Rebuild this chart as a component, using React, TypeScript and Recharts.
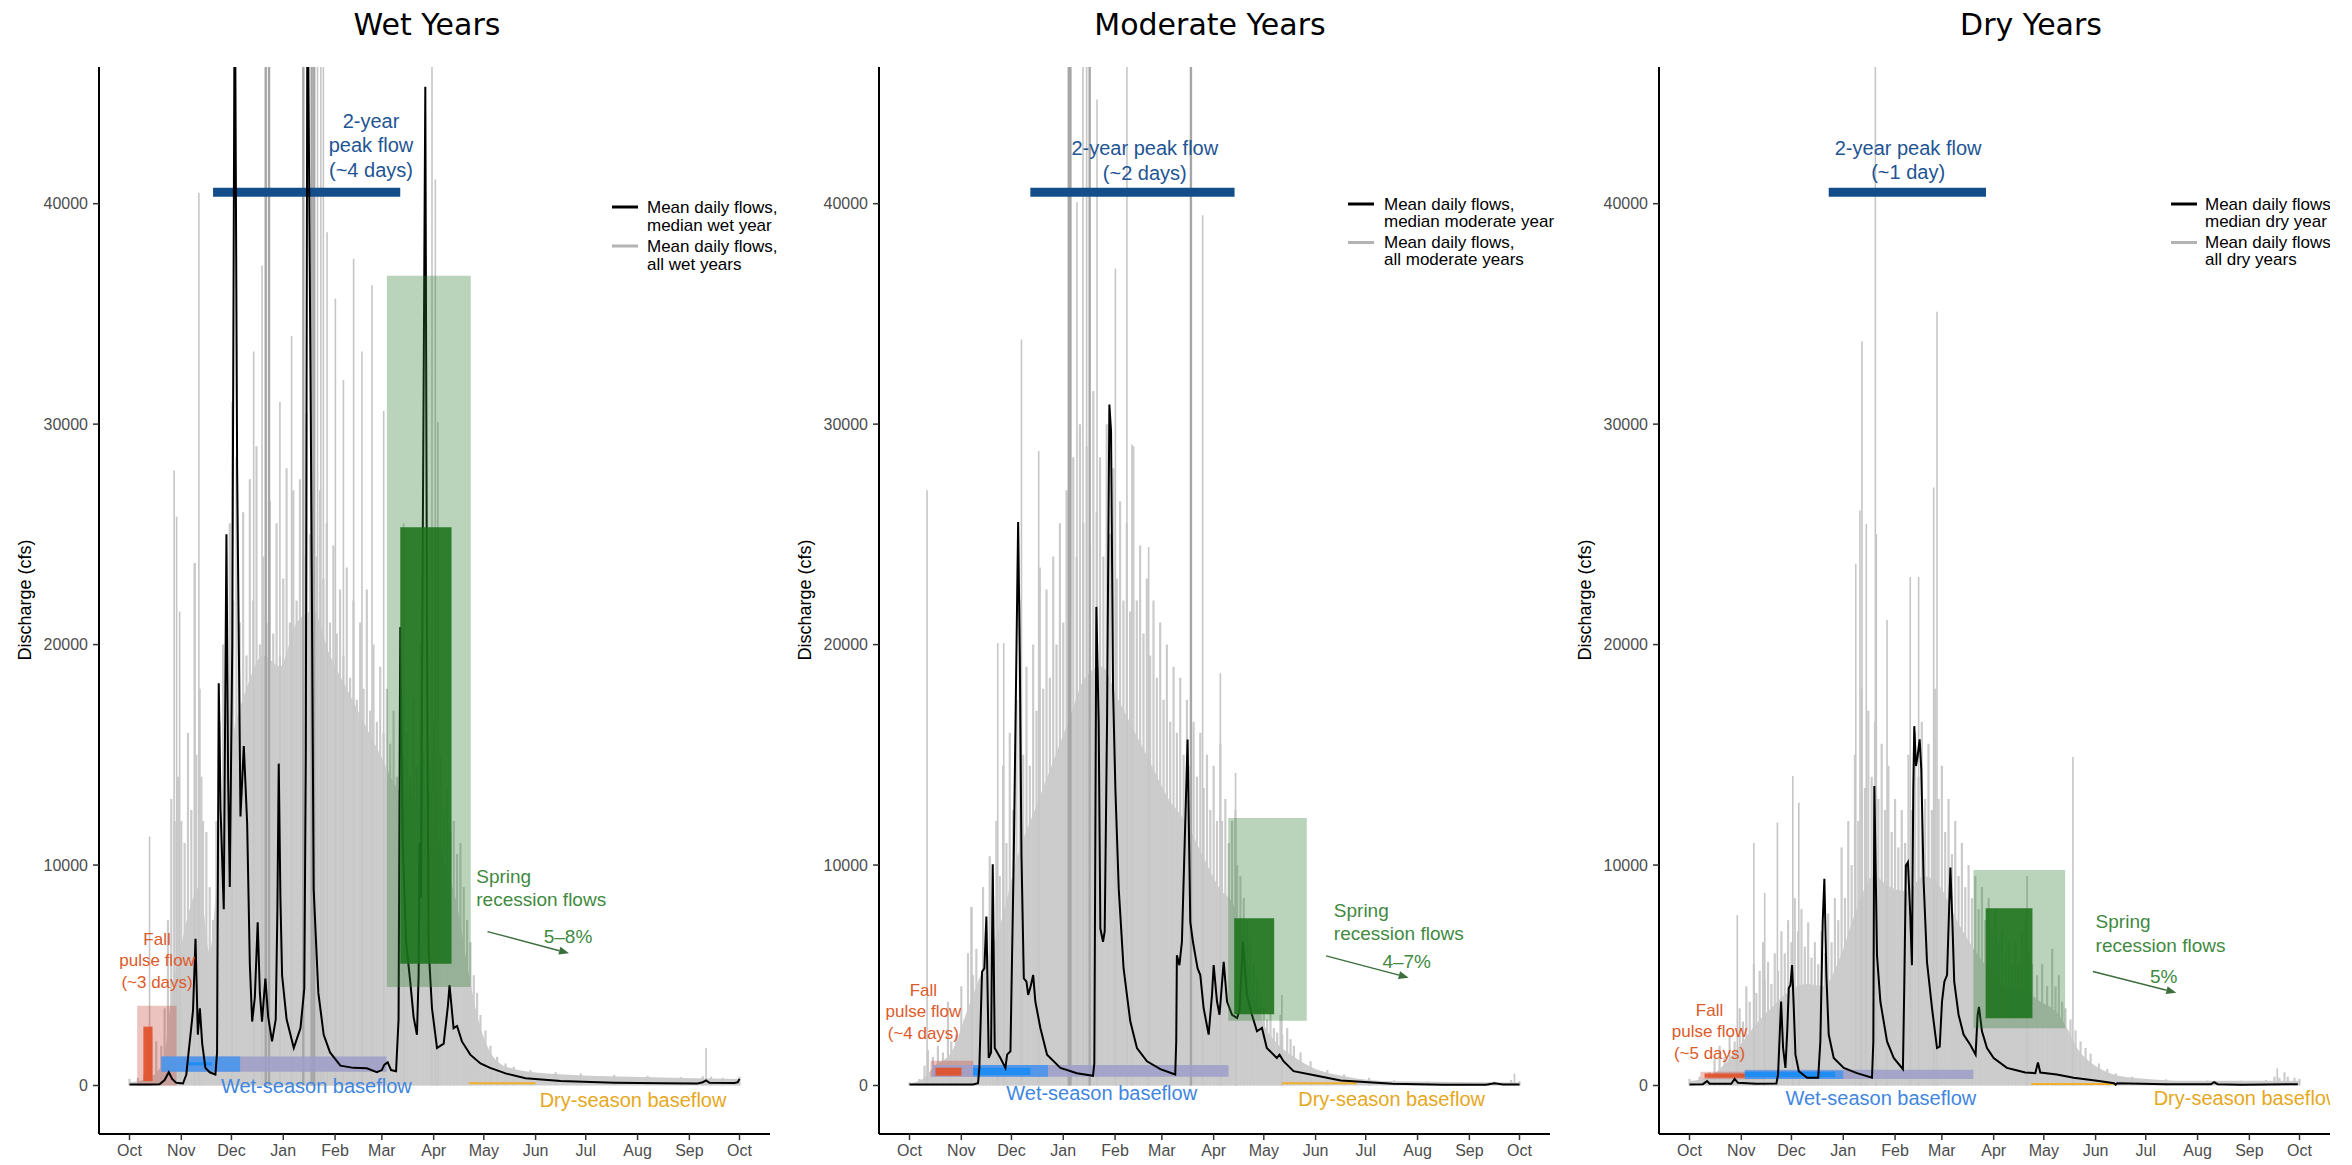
import React from 'react';
import {
  ComposedChart,
  Area,
  Line,
  Scatter,
  XAxis,
  YAxis,
  ReferenceArea,
  ReferenceLine,
} from 'recharts';

type Pt = [number, number]; // [day of water year, discharge in cfs]
type Box = [number, number, number, number]; // [start day, end day, low cfs, high cfs]

const FONT = '"Liberation Sans", Arial, Helvetica, sans-serif';
const TITLE_FONT = '"DejaVu Sans", Verdana, sans-serif';

// ---- axes ----
const MONTH_TICKS = [0, 31, 61, 92, 123, 151, 182, 212, 243, 273, 304, 335, 365];
const MONTH_LABELS = ['Oct', 'Nov', 'Dec', 'Jan', 'Feb', 'Mar', 'Apr', 'May', 'Jun', 'Jul', 'Aug', 'Sep', 'Oct'];
const CFS_TICKS = [0, 10000, 20000, 30000, 40000];
const DAY_DOMAIN: [number, number] = [-18.25, 383.25];
const CFS_DOMAIN: [number, number] = [-2200, 46200];

// ---- wet years ----
const wetMedian: Pt[] = [
  [0, 40], [10, 45], [18, 60], [21, 250], [23.5, 600], [25.5, 300], [28, 120], [32, 90], [34, 500],
  [35.5, 1600], [36.5, 2300], [38, 3400], [39.5, 6650], [40.9, 2300], [42.1, 3500], [43.5, 1900],
  [45.4, 800], [48, 600], [51.4, 500], [52.4, 1500], [53.4, 18250], [54.5, 12500], [56.4, 8000],
  [58, 25000], [59, 14000], [60, 9000], [61.5, 20000], [63, 52000], [64.4, 28000], [66.4, 12200],
  [68.4, 15400], [70.4, 11900], [72, 5500], [73.4, 2900], [75, 4000], [76.7, 7400], [78, 4200],
  [79.3, 2900], [81.3, 4850], [83, 3100], [85.3, 2000], [87.5, 3000], [88.5, 8000], [89.3, 14600],
  [90.3, 8500], [91.3, 5000], [94, 3000], [98.3, 1700], [102.3, 2600], [104.6, 4400], [105.5, 15000],
  [106.5, 52000], [108.5, 30000], [110.2, 8900], [113, 4200], [116.2, 2300], [120, 1500], [126.2, 900],
  [134, 800], [142, 780], [148, 600], [151, 700], [152.5, 950], [154.5, 1050], [156.5, 700],
  [159.5, 650], [161, 3000], [162, 20800], [163.5, 11000], [165.5, 6500], [168, 4700], [170, 3100],
  [172, 2300], [173, 5000], [173.6, 11000], [174.4, 8500], [175.5, 25000], [177, 45300], [178, 21000],
  [179, 6200], [181, 3500], [184, 1700], [188, 1900], [190.5, 3600], [191.5, 4550], [193.9, 2600],
  [196, 2700], [198.9, 2000], [203.9, 1400], [210, 1000], [215.8, 800], [225, 550], [237, 330],
  [258, 200], [290, 130], [320, 100], [340, 95], [343, 150], [345, 230], [347, 120], [362, 110],
  [364, 150], [365, 300],
];
// highest daily flow among all wet years, sampled every couple of days
const wetAllYears: Pt[] = [
  [0, 300], [5, 350], [9, 500], [11, 2500], [13, 2200], [16, 2000], [19, 1800], [21, 3500], [23, 7500],
  [25, 13000], [27, 12000], [29, 14000], [31, 12000], [33, 11000], [35, 16000], [37, 12500], [39, 23700],
  [40, 15000], [42, 18000], [43, 14000], [44, 12000], [46, 11500], [48, 9000], [50, 7500], [52, 12000],
  [54, 16500], [56, 20000], [58, 18000], [60, 25500], [62, 22000], [64, 28500], [66, 21000], [68, 26000],
  [70, 19500], [72, 27500], [74, 22000], [76, 29000], [78, 20000], [80, 24000], [82, 21000], [84, 26500],
  [86, 20500], [88, 25500], [90, 19500], [92, 23000], [94, 28000], [96, 21000], [98, 27000], [100, 22000],
  [102, 27500], [104, 24000], [106, 30500], [108, 25000], [110, 29000], [112, 24000], [114, 27000],
  [116, 23000], [118, 25500], [120, 21000], [122, 24500], [124, 20500], [126, 22500], [128, 19500],
  [130, 23500], [132, 18500], [134, 22000], [136, 17500], [138, 21000], [140, 18000], [142, 22500],
  [144, 17000], [146, 20000], [148, 16500], [150, 19000], [152, 16000], [154, 18000], [156, 15500],
  [158, 17000], [160, 14000], [162, 16500], [164, 15000], [166, 16000], [168, 14000], [170, 17500],
  [172, 14500], [174, 20000], [176, 15000], [178, 18000], [180, 14500], [182, 16500], [184, 13500],
  [186, 15000], [188, 12500], [190, 13500], [192, 11500], [194, 12000], [196, 10500], [198, 11000],
  [200, 9000], [202, 7500], [204, 6500], [206, 5000], [208, 4200], [210, 3200], [213, 2500], [216, 1800],
  [220, 1300], [225, 1000], [230, 850], [240, 700], [255, 600], [270, 550], [290, 480], [310, 430],
  [330, 380], [343, 420], [348, 400], [355, 350], [365, 400],
];
// level that most wet years reach on a given day (solid part of the gray band)
const wetAllYearsFloor: Pt[] = [
  [0, 150], [10, 300], [20, 1000], [25, 4000], [30, 6000], [36, 8000], [42, 9000], [48, 6000], [54, 11000],
  [60, 15000], [70, 18000], [80, 19500], [90, 19000], [100, 21000], [110, 21500], [120, 19500],
  [130, 18000], [140, 16500], [150, 15000], [160, 13500], [170, 13000], [180, 12000], [190, 9800],
  [196, 8200], [202, 5500], [208, 3200], [214, 1800], [220, 1100], [230, 750], [250, 550], [300, 400],
  [365, 300],
];
const wetSpikes: Pt[] = [
  [12, 11300], [26.7, 27900], [28.2, 25800], [30, 21500], [39, 23700], [41.5, 40500], [61.4, 31000],
  [74.3, 33300], [79.3, 37200], [90, 31000], [97, 34000], [118.2, 38700], [123.2, 35700], [128, 32000],
  [134.1, 37500], [139.1, 33300], [145.1, 36300], [152.1, 30600], [164, 25500], [183, 41100],
  [184.5, 30100], [345, 1700],
];
const wetTallSpikes: Pt[] = [[112.5, 52000], [114.5, 52000], [116, 52000], [181, 52000]];
const wetDarkSpikes: Pt[] = [[81.5, 52000], [83.5, 52000], [104, 52000], [109, 52000], [110.5, 52000]];
const wetPeakFlow: Box = [50, 162, 40520, 40520];
const wetFallRange: Box = [4.6, 28.1, 0, 3620];
const wetFallPeak: Box = [8.3, 13.8, 200, 2670];
const wetBaseRange: Box = [19, 153.8, 625, 1310];
const wetBaseEarly: Box = [19, 66.2, 625, 1310];
const wetBaseCore: Box = [34.2, 49.4, 910, 1060];
const wetDryBase: Box = [203, 243, 100, 100];
const wetSpringRange: Box = [154, 204.2, 4470, 36730];
const wetSpringCore: Box = [162, 192.7, 5520, 25320];
const wetRecession: Box = [214.2, 263, 6980, 6000];

// ---- moderate years ----
const moderateMedian: Pt[] = [
  [0, 40], [20, 40], [38, 50], [41, 100], [41.8, 800], [43.4, 5160], [44.8, 5310], [46, 7660],
  [47.4, 1250], [48.8, 1500], [49.8, 10040], [51, 1700], [52.5, 1500], [54.4, 1250], [57.4, 800],
  [58.4, 1400], [60.4, 1550], [62.4, 10430], [65, 25560], [66, 19450], [67, 10430], [68.4, 4860],
  [70, 4710], [71, 4110], [72.5, 4500], [74, 5010], [75.3, 3810], [78.3, 2610], [82.3, 1400],
  [90.3, 800], [100.2, 560], [109.8, 440], [110.6, 1000], [111.8, 21710], [113.2, 16450], [114.2, 7120],
  [115.8, 6520], [116.8, 7000], [118.2, 16450], [119.6, 30890], [120.6, 29690], [121.8, 17950],
  [123.2, 13440], [125.2, 8920], [128.1, 5310], [132.1, 2910], [136.1, 1700], [142.1, 1100],
  [150.1, 740], [159, 500], [159.6, 2000], [160, 5910], [161.5, 5460], [163, 6520], [166.4, 15690],
  [168, 7420], [169.6, 6520], [171, 5900], [172.4, 5310], [174, 5010], [176, 3510], [179, 2310],
  [181, 4110], [182, 5460], [184, 3810], [185.5, 3210], [188, 5610], [190, 3810], [193, 3210],
  [196, 3060], [197.5, 3400], [199.5, 6520], [201.9, 4110], [204.9, 3210], [207.9, 2460], [210.9, 2610],
  [213.8, 1700], [219.8, 1250], [221.4, 1400], [223.8, 1100], [229.8, 650], [243, 450], [258, 230],
  [289, 75], [320, 35], [345, 35], [350, 100], [355, 50], [365, 40],
];
const moderateAllYears: Pt[] = [
  [0, 150], [6, 300], [9, 900], [11, 1600], [14, 1300], [17, 1800], [20, 1500], [23, 3800], [25, 2000],
  [28, 2300], [31, 4500], [33, 3000], [35, 6000], [37, 8100], [38, 5000], [40, 6200], [42, 4800],
  [44, 9000], [46, 7000], [48, 10400], [50, 8500], [52, 12000], [54, 9500], [56, 14500], [58, 11000],
  [60, 16000], [62, 12500], [64, 17500], [66, 22000], [68, 15000], [70, 19000], [72, 14500], [74, 20000],
  [76, 17000], [78, 23500], [80, 18000], [82, 22500], [84, 18500], [86, 24000], [88, 20000], [90, 25500],
  [92, 21000], [94, 27000], [96, 23000], [98, 28500], [100, 24000], [102, 30000], [104, 25500],
  [106, 29000], [108, 24500], [110, 31500], [112, 26000], [114, 28500], [116, 24000], [118, 30000],
  [120, 25000], [122, 28000], [124, 23000], [126, 26500], [128, 22000], [130, 25500], [132, 21500],
  [134, 29000], [136, 22000], [138, 24500], [140, 20500], [142, 23000], [144, 19500], [146, 22000],
  [148, 18500], [150, 21000], [152, 17500], [154, 20000], [156, 16500], [158, 19000], [160, 16000],
  [162, 18500], [164, 15000], [166, 17500], [168, 14500], [170, 16500], [172, 14000], [174, 16000],
  [176, 13500], [178, 15000], [180, 12500], [182, 14500], [184, 12000], [186, 15500], [187, 12000],
  [189, 13000], [191, 11000], [193, 12000], [195, 12500], [196, 10000], [198, 9500], [200, 8500],
  [202, 7500], [204, 6500], [206, 5500], [208, 4800], [210, 4200], [212, 3600], [214, 3000], [216, 3300],
  [218, 2600], [220, 2400], [222, 3200], [223, 2300], [226, 2600], [228, 2100], [230, 1800], [234, 1500],
  [240, 1100], [250, 700], [260, 500], [275, 350], [290, 230], [310, 180], [330, 160], [350, 180],
  [360, 250], [365, 200],
];
const moderateAllYearsFloor: Pt[] = [
  [0, 100], [8, 300], [15, 900], [25, 1500], [35, 3500], [45, 5500], [55, 7500], [65, 10500], [75, 12500],
  [85, 14500], [95, 16500], [105, 18500], [115, 19000], [125, 17500], [135, 16000], [145, 14500],
  [155, 13000], [165, 12000], [175, 10500], [185, 9000], [195, 8000], [200, 6500], [206, 4300],
  [212, 2800], [220, 1900], [230, 1300], [240, 850], [260, 420], [290, 190], [365, 140],
];
const moderateSpikes: Pt[] = [
  [10.5, 27000], [37.2, 8100], [52.8, 20060], [56.4, 20060], [67, 33840], [77.3, 28780], [100.2, 40070],
  [112.2, 44730], [123.2, 37060], [133.1, 29080], [143.1, 24420], [175.4, 39470], [186, 18700],
  [195.1, 14190], [222.8, 4100], [362, 530],
];
const moderateTallSpikes: Pt[] = [[103.8, 52000], [106, 52000], [130.1, 52000]];
const moderateDarkSpikes: Pt[] = [[95.3, 52000], [96.3, 52000], [107.8, 52000], [168.4, 52000]];
const moderatePeakFlow: Box = [72.3, 194.5, 40520, 40520];
const moderateFallRange: Box = [12.6, 38.1, 400, 1125];
const moderateFallPeak: Box = [15.5, 31.1, 445, 808];
const moderateBaseRange: Box = [13.6, 190.9, 400, 930];
const moderateBaseEarly: Box = [38.1, 82.9, 400, 930];
const moderateBaseCore: Box = [38.1, 72.3, 475, 808];
const moderateDryBase: Box = [222.7, 267.6, 100, 100];
const moderateSpringRange: Box = [190.7, 237.7, 2940, 12130];
const moderateSpringCore: Box = [194.3, 218.2, 3230, 7590];
const moderateRecession: Box = [249.3, 298.7, 5880, 4890];

// ---- dry years ----
const dryMedian: Pt[] = [
  [0, 50], [8, 60], [10.5, 200], [12, 80], [25, 80], [27, 300], [29, 120], [40, 80], [52, 90], [53, 500],
  [54.8, 3810], [56, 1700], [57.4, 800], [58.5, 2500], [59.4, 4410], [60.4, 4560], [61.4, 5460],
  [62.4, 3510], [63.4, 1400], [65.4, 650], [70.4, 350], [77, 350], [78.3, 2000], [79.7, 7420],
  [80.7, 9380], [81.9, 5010], [83.3, 2310], [86.3, 1250], [92.3, 800], [100.2, 560], [109.2, 350],
  [110, 2000], [110.6, 13590], [112.2, 5910], [114.2, 3810], [118.2, 2000], [122.2, 1250], [127.7, 740],
  [128.5, 4410], [129.5, 9980], [130.7, 10130], [132.1, 7720], [133.1, 5460], [133.9, 13440],
  [134.5, 16300], [135.5, 14490], [136.5, 14940], [137.7, 15700], [138.7, 14340], [140.1, 9230],
  [142.1, 5610], [145.1, 3510], [148.1, 1700], [149.7, 1760], [151.1, 3810], [152.5, 4710], [154.1, 5010],
  [155.1, 7420], [156.1, 9890], [157.3, 7420], [158.4, 4710], [161, 3210], [164, 2310], [168, 1850],
  [171.2, 1400], [172.4, 3210], [173.2, 3570], [175, 2460], [178, 1700], [182, 1250], [189.9, 800],
  [195, 700], [200.9, 590], [206.9, 560], [208.5, 1040], [209.9, 590], [219.8, 500], [229.8, 350],
  [245, 200], [254, 100], [255, 40], [256, 100], [285, 60], [312, 60], [314, 150], [316, 60], [330, 30],
  [364, 60],
];
const dryAllYears: Pt[] = [
  [0, 300], [6, 400], [12, 600], [15, 1200], [18, 1800], [21, 1300], [24, 2300], [27, 2000], [30, 3500],
  [32, 2900], [34, 4500], [36, 3800], [38.5, 5500], [40, 4200], [42, 5200], [44, 6500], [45, 4800],
  [47, 5600], [49, 4600], [51, 6000], [53, 5200], [55, 7000], [57, 6000], [59, 7500], [61, 6500],
  [63, 8500], [65, 7000], [67, 8000], [69, 6300], [71, 7400], [73, 5800], [75, 6500], [77, 5500],
  [79, 7000], [81, 6000], [83, 7800], [85, 6500], [87, 8500], [89, 7500], [91, 10800], [93, 8500],
  [95, 12000], [97, 10000], [99, 15000], [101, 12000], [103, 18000], [105, 13500], [107, 17000],
  [109, 14000], [111, 16500], [113, 13000], [115, 15500], [117, 12500], [119, 14500], [121, 11500],
  [123, 13000], [125, 10800], [127, 12500], [129, 11000], [131, 15000], [133, 12500], [135, 16000],
  [137, 14000], [139, 16500], [141, 13000], [143, 15500], [145, 12500], [147, 18000], [149, 13000],
  [151, 14500], [153, 11500], [155, 13000], [157, 10500], [159, 12000], [161, 9500], [163, 11000],
  [165, 9000], [167, 10000], [169, 8500], [171, 9500], [173, 8000], [175, 9000], [177, 7500], [179, 8500],
  [181, 7000], [183, 8000], [185, 6500], [187, 7000], [189, 6000], [191, 6500], [193, 5500], [195, 6500],
  [197, 5500], [199, 7000], [201, 7500], [203, 6000], [205, 5500], [208, 5000], [211, 5500], [214, 4500],
  [217, 6200], [219, 4500], [221, 5000], [223, 3800], [225, 3500], [228, 3000], [231, 2500], [234, 2000],
  [237, 1700], [240, 1450], [245, 1000], [250, 750], [255, 550], [265, 400], [285, 280], [310, 230],
  [330, 220], [345, 250], [350, 400], [353, 350], [356, 600], [358, 400], [362, 350], [365, 300],
];
const dryAllYearsFloor: Pt[] = [
  [0, 200], [12, 400], [20, 900], [30, 1800], [40, 2800], [50, 3600], [60, 4300], [70, 4600], [80, 4500],
  [90, 5800], [100, 8000], [110, 9500], [120, 9000], [130, 8800], [140, 9500], [150, 9000], [160, 7500],
  [170, 6200], [180, 5200], [190, 4400], [200, 4300], [210, 3800], [220, 3300], [226, 2600], [232, 1700],
  [240, 1050], [250, 600], [265, 350], [300, 210], [365, 210],
];
const drySpikes: Pt[] = [
  [28.6, 7740], [38.5, 11000], [45, 8740], [52.6, 11930], [61.8, 14040], [65.4, 12840], [99.5, 23670],
  [102, 26080], [103.2, 33750], [105.8, 25470], [111.8, 25020], [118.2, 21110], [132.1, 23070],
  [137.1, 23070], [146.1, 27130], [148.1, 35100], [202, 9500], [229.4, 14900], [351.7, 780],
];
const dryTallSpikes: Pt[] = [[111.2, 52000]];
const dryDarkSpikes: Pt[] = [];
const dryPeakFlow: Box = [83.3, 177.4, 40520, 40520];
const dryFallRange: Box = [6.5, 45.1, 281, 626];
const dryFallPeak: Box = [9, 33.1, 350, 550];
const dryBaseRange: Box = [33.1, 169.8, 290, 710];
const dryBaseEarly: Box = [33.1, 92, 290, 680];
const dryBaseCore: Box = [33.1, 87.2, 370, 626];
const dryDryBase: Box = [204.5, 255, 70, 70];
const drySpringRange: Box = [169.9, 224.8, 2595, 9780];
const drySpringCore: Box = [177.2, 205.2, 3050, 8040];
const dryRecession: Box = [241.4, 291.3, 5170, 4210];

// ---- annotation text, anchored in data space ----
type Note = { day: number; cfs: number; kind: string; lines: string[] };
const wetNotes: Note[] = [
  { day: 144.5, cfs: 43770, kind: 'peak', lines: ['2-year', 'peak flow', '(~4 days)'] },
  { day: 16.5, cfs: 6635, kind: 'fall', lines: ['Fall', 'pulse flow', '(~3 days)'] },
  { day: 207.5, cfs: 9507, kind: 'spring', lines: ['Spring', 'recession flows'] },
  { day: 262.4, cfs: 6780, kind: 'pct', lines: ['5–8%'] },
  { day: 111.8, cfs: -20, kind: 'wetBase', lines: ['Wet-season baseflow'] },
  { day: 301.3, cfs: -660, kind: 'dryBase', lines: ['Dry-season baseflow'] },
];
const moderateNotes: Note[] = [
  { day: 140.8, cfs: 42520, kind: 'peak', lines: ['2-year peak flow', '(~2 days)'] },
  { day: 8.3, cfs: 4334, kind: 'fall', lines: ['Fall', 'pulse flow', '(~4 days)'] },
  { day: 253.9, cfs: 7964, kind: 'spring', lines: ['Spring', 'recession flows'] },
  { day: 297.5, cfs: 5620, kind: 'pct', lines: ['4–7%'] },
  { day: 115, cfs: -355, kind: 'wetBase', lines: ['Wet-season baseflow'] },
  { day: 288.5, cfs: -615, kind: 'dryBase', lines: ['Dry-season baseflow'] },
];
const dryNotes: Note[] = [
  { day: 130.8, cfs: 42540, kind: 'peak', lines: ['2-year peak flow', '(~1 day)'] },
  { day: 12, cfs: 3426, kind: 'fall', lines: ['Fall', 'pulse flow', '(~5 days)'] },
  { day: 243, cfs: 7433, kind: 'spring', lines: ['Spring', 'recession flows'] },
  { day: 283.7, cfs: 4970, kind: 'pct', lines: ['5%'] },
  { day: 114.5, cfs: -580, kind: 'wetBase', lines: ['Wet-season baseflow'] },
  { day: 333.6, cfs: -580, kind: 'dryBase', lines: ['Dry-season baseflow'] },
];

const NOTE_STYLE: Record<string, { color: string; size: number; anchor: string; gap: number }> = {
  peak: { color: '#1f5593', size: 20, anchor: 'middle', gap: 24.5 },
  fall: { color: '#dd5a2b', size: 17, anchor: 'middle', gap: 21.3 },
  spring: { color: '#3f8a3f', size: 19, anchor: 'start', gap: 23.3 },
  pct: { color: '#3f8a3f', size: 19, anchor: 'middle', gap: 0 },
  wetBase: { color: '#3f86e0', size: 20, anchor: 'middle', gap: 0 },
  dryBase: { color: '#e6a81e', size: 20, anchor: 'middle', gap: 0 },
};

// ---- per-panel page furniture (pixel layout) ----
const PANELS = [
  {
    key: 'wet', title: 'Wet Years', left: 0, clip: 800, titleX: 427,
    legend: { lineX: 612, textX: 647, ys: [207, 225, 246, 264] },
    legendText: ['Mean daily flows,', 'median wet year', 'Mean daily flows,', 'all wet years'],
    median: wetMedian, allYears: wetAllYears, floor: wetAllYearsFloor, spikes: wetSpikes,
    tall: wetTallSpikes, dark: wetDarkSpikes,
    peak: wetPeakFlow, fallRange: wetFallRange, fallPeak: wetFallPeak, baseRange: wetBaseRange,
    baseEarly: wetBaseEarly, baseCore: wetBaseCore, dryBase: wetDryBase, springRange: wetSpringRange,
    springCore: wetSpringCore, recession: wetRecession, notes: wetNotes,
  },
  {
    key: 'moderate', title: 'Moderate Years', left: 780, clip: 800, titleX: 430,
    legend: { lineX: 568, textX: 604, ys: [204, 221, 242.5, 259.5] },
    legendText: ['Mean daily flows,', 'median moderate year', 'Mean daily flows,', 'all moderate years'],
    median: moderateMedian, allYears: moderateAllYears, floor: moderateAllYearsFloor,
    spikes: moderateSpikes, tall: moderateTallSpikes,
    dark: moderateDarkSpikes, peak: moderatePeakFlow, fallRange: moderateFallRange,
    fallPeak: moderateFallPeak, baseRange: moderateBaseRange, baseEarly: moderateBaseEarly,
    baseCore: moderateBaseCore, dryBase: moderateDryBase, springRange: moderateSpringRange,
    springCore: moderateSpringCore, recession: moderateRecession, notes: moderateNotes,
  },
  {
    key: 'dry', title: 'Dry Years', left: 1560, clip: 770, titleX: 471,
    legend: { lineX: 611, textX: 645, ys: [204, 221, 242.5, 259.5] },
    legendText: ['Mean daily flows,', 'median dry year', 'Mean daily flows,', 'all dry years'],
    median: dryMedian, allYears: dryAllYears, floor: dryAllYearsFloor, spikes: drySpikes,
    tall: dryTallSpikes, dark: dryDarkSpikes,
    peak: dryPeakFlow, fallRange: dryFallRange, fallPeak: dryFallPeak, baseRange: dryBaseRange,
    baseEarly: dryBaseEarly, baseCore: dryBaseCore, dryBase: dryDryBase, springRange: drySpringRange,
    springCore: drySpringCore, recession: dryRecession, notes: dryNotes,
  },
];

const toRows = (pts: Pt[]) => pts.map(([day, cfs]) => ({ day, cfs }));

const NoteShape = (p: any) => {
  const n = p.payload as Note;
  if (!n || p.cx == null || p.cy == null) return <g />;
  const s = NOTE_STYLE[n.kind];
  return (
    <text x={p.cx} y={p.cy} fill={s.color} fontSize={s.size} fontFamily={FONT} textAnchor={s.anchor}>
      {n.lines.map((t, i) => (
        <tspan key={i} x={p.cx} dy={i === 0 ? s.size * 0.35 : s.gap}>
          {t}
        </tspan>
      ))}
    </text>
  );
};

const ArrowShape = (p: any) => {
  const { x1, y1, x2, y2 } = p;
  if ([x1, y1, x2, y2].some((v) => v == null || Number.isNaN(v))) return <g />;
  const a = Math.atan2(y2 - y1, x2 - x1);
  const len = 10;
  const half = 4;
  const bx = x2 - len * Math.cos(a);
  const by = y2 - len * Math.sin(a);
  const pts = `${x2},${y2} ${bx + half * Math.sin(a)},${by - half * Math.cos(a)} ${bx - half * Math.sin(a)},${by + half * Math.cos(a)}`;
  return (
    <g>
      <line x1={x1} y1={y1} x2={bx} y2={by} stroke="#3d6f3d" strokeWidth={1.5} />
      <polygon points={pts} fill="#3d6f3d" />
    </g>
  );
};

const rect = (b: Box, fill: string, opacity: number, z: number, key: string) => (
  <ReferenceArea
    key={key}
    x1={b[0]}
    x2={b[1]}
    y1={b[2]}
    y2={b[3]}
    fill={fill}
    fillOpacity={opacity}
    stroke="none"
    ifOverflow="visible"
    zIndex={z}
  />
);

const stem = (d: number, v: number, color: string, width: number, z: number, key: string) => (
  <ReferenceLine
    key={key}
    segment={[{ x: d, y: 0 }, { x: d, y: v }]}
    stroke={color}
    strokeWidth={width}
    ifOverflow="hidden"
    zIndex={z}
  />
);

function FlowPanel({ spec }: { spec: (typeof PANELS)[number] }) {
  return (
    <ComposedChart width={800} height={1165} margin={{ top: 67, right: 30, bottom: 0, left: 0 }}>
      <XAxis
        type="number"
        dataKey="day"
        domain={DAY_DOMAIN}
        allowDataOverflow
        ticks={MONTH_TICKS}
        interval={0}
        tickFormatter={(v: number) => MONTH_LABELS[MONTH_TICKS.indexOf(v)] ?? ''}
        height={31}
        tickSize={6}
        tickMargin={5}
        axisLine={{ stroke: '#000', strokeWidth: 2 }}
        tickLine={{ stroke: '#333', strokeWidth: 1.5 }}
        tick={{ fill: '#4d4d4d', fontSize: 16, fontFamily: FONT }}
      />
      <YAxis
        type="number"
        domain={CFS_DOMAIN}
        allowDataOverflow
        ticks={CFS_TICKS}
        interval={0}
        width={99}
        tickSize={6}
        tickMargin={5}
        axisLine={{ stroke: '#000', strokeWidth: 2 }}
        tickLine={{ stroke: '#333', strokeWidth: 1.5 }}
        tick={{ fill: '#4d4d4d', fontSize: 16, fontFamily: FONT }}
      />

      {/* every year's daily flows: solid common range, then the daily highs as stems */}
      <Area
        data={toRows(spec.floor)}
        dataKey="cfs"
        type="monotone"
        stroke="none"
        fill="#cdcdcd"
        fillOpacity={1}
        dot={false}
        activeDot={false}
        isAnimationActive={false}
        zIndex={100}
      />
      {spec.allYears.map(([d, v], i) => stem(d, v, '#cbcbcb', 2.2, 105, `a${i}`))}
      {[...spec.spikes, ...spec.tall].map(([d, v], i) => stem(d, v, '#c6c6c6', 1.6, 110, `s${i}`))}
      {spec.dark.map(([d, v], i) => stem(d, v, '#a6a6a6', 2.4, 115, `d${i}`))}

      {/* flow-component boxes */}
      {rect(spec.fallRange, '#c0392b', 0.3, 200, 'fr')}
      {rect(spec.baseRange, '#9d9dc9', 0.85, 210, 'br')}
      {rect(spec.baseEarly, '#4b95ea', 0.9, 220, 'be')}
      {rect(spec.baseCore, '#1e8cf5', 0.95, 230, 'bc')}
      {rect(spec.fallPeak, '#e2512a', 0.92, 240, 'fp')}
      <ReferenceLine
        segment={[{ x: spec.dryBase[0], y: spec.dryBase[2] }, { x: spec.dryBase[1], y: spec.dryBase[3] }]}
        stroke="#f0ae2a"
        strokeWidth={2}
        ifOverflow="visible"
        zIndex={250}
      />
      <ReferenceLine
        segment={[{ x: spec.peak[0], y: spec.peak[2] }, { x: spec.peak[1], y: spec.peak[3] }]}
        stroke="#134e8b"
        strokeWidth={9}
        ifOverflow="visible"
        zIndex={260}
      />

      {/* median year */}
      <Line
        data={toRows(spec.median)}
        dataKey="cfs"
        type="linear"
        stroke="#000"
        strokeWidth={2}
        dot={false}
        activeDot={false}
        isAnimationActive={false}
        zIndex={400}
      />

      {rect(spec.springRange, '#2e7d32', 0.33, 450, 'sr')}
      {rect(spec.springCore, '#1a721a', 0.88, 460, 'sc')}
      <ReferenceLine
        segment={[{ x: spec.recession[0], y: spec.recession[2] }, { x: spec.recession[1], y: spec.recession[3] }]}
        shape={ArrowShape}
        ifOverflow="visible"
        zIndex={470}
      />

      <Scatter
        data={spec.notes}
        dataKey="cfs"
        shape={NoteShape}
        isAnimationActive={false}
        zIndex={2000}
      />
    </ComposedChart>
  );
}

function PanelFurniture({ spec }: { spec: (typeof PANELS)[number] }) {
  const { lineX, textX, ys } = spec.legend;
  return (
    <svg
      width={800}
      height={1165}
      style={{ position: 'absolute', left: 0, top: 0, pointerEvents: 'none' }}
    >
      <text x={spec.titleX} y={35} textAnchor="middle" fontFamily={TITLE_FONT} fontSize={30} fill="#000">
        {spec.title}
      </text>
      <text
        transform="translate(25,600) rotate(-90)"
        textAnchor="middle"
        dominantBaseline="central"
        fontFamily={FONT}
        fontSize={18}
        fill="#000"
      >
        Discharge (cfs)
      </text>
      <line x1={lineX} x2={lineX + 26} y1={ys[0]} y2={ys[0]} stroke="#000" strokeWidth={3} />
      <line x1={lineX} x2={lineX + 26} y1={ys[2]} y2={ys[2]} stroke="#b3b3b3" strokeWidth={3} />
      {spec.legendText.map((t, i) => (
        <text key={i} x={textX} y={ys[i]} dominantBaseline="central" fontFamily={FONT} fontSize={17} fill="#000">
          {t}
        </text>
      ))}
    </svg>
  );
}

export default function App() {
  return (
    <div
      style={{
        position: 'absolute',
        left: 0,
        top: 0,
        width: 2352,
        height: 1165,
        background: '#fff',
        overflow: 'hidden',
      }}
    >
      {PANELS.map((p) => (
        <div
          key={p.key}
          style={{ position: 'absolute', left: p.left, top: 0, width: p.clip, height: 1165, overflow: 'hidden' }}
        >
          <FlowPanel spec={p} />
          <PanelFurniture spec={p} />
        </div>
      ))}
    </div>
  );
}
